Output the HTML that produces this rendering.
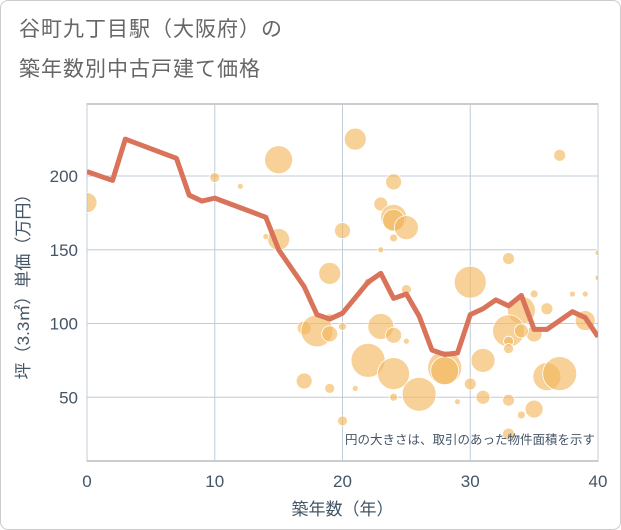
<!DOCTYPE html>
<html><head><meta charset="utf-8"><style>
body{margin:0;background:#fff;font-family:"Liberation Sans","Noto Sans CJK JP",sans-serif}
#wrap{position:relative;width:619px;height:528px;border:1px solid #ccc;border-radius:8px;overflow:hidden;background:#fff}
.t{position:absolute;left:18px;font-size:21px;color:#666;letter-spacing:1px}
</style></head><body>
<div id="wrap">
<div class="t" style="top:12px">谷町九丁目駅（大阪府）の</div>
<div class="t" style="top:52px">築年数別中古戸建て価格</div>
<svg id="svg" width="621" height="530" style="position:absolute;left:0;top:0"></svg>
</div>
<script>
const xTicks=[0,10,20,30,40];
const yTicks=[50,100,150,200];
const lineYears=[0,2,3,7,8,9,10,14,15,17,18,19,20,22,23,24,25,26,27,28,29,30,31,32,33,34,35,36,38,39,40];
const lineValues=[203,197,225,212,187,183,185,172,150,125,106,103,107,128,134,117,120,105,82,79,80,106,110,116,112,119,96,96,108,104,91];
const bubbleYears=[0,10,12,15,21,15,14,20,23,24,24,24,25,24,23,19,22,25,37,33,35,38,40,40,30,34,33,19,17,18,19,20,23,24,25,22,24,26,28,28,31,30,33,33,35,36,39,36,37,17,19,21,24,29,31,33,34,35,20,33,39,34];
const bubbleValues=[182,199,193,211,225,157,159,163,181,196,172,170,165,158,150,134,128,123,214,144,120,120,148,131,128,109,95,104,97,95,93,98,98,92,88,75,66,52,70,68,75,59,88,83,93,110,102,64,66,61,56,56,50,47,50,48,38,42,34,25,120,95];
const bubbleSizes=[10,5,3,14,11,11,3,8,7,8,13,11,12,4,3,11,4,5,6,6,4,3,3,3,16,14,16,4,7,16,8,4,13,8,3,17,16,17,17,14,12,6,5,5,8,6,10,14,17,8,5,3,4,3,7,6,4,9,5,6,3,7];
const X0=86,X1=597,Y0=103,Y1=460;
const sx=v=>X0+(v-0)/40*(X1-X0);
const sy=v=>470-v*1.475;
const svg=document.getElementById('svg');const NS='http://www.w3.org/2000/svg';
function mk(t,a,p){const e=document.createElementNS(NS,t);for(const k in a)e.setAttribute(k,a[k]);(p||svg).appendChild(e);return e;}
const bg=mk('rect',{x:X0,y:Y0,width:X1-X0,height:Y1-Y0,fill:'#fff',stroke:'#999','stroke-width':1});


xTicks.forEach(v=>{
 const g=mk('line',{x1:sx(v),x2:sx(v),y1:Y0,y2:Y1,stroke:'#c0ccd8','stroke-width':1});
 
 
 const t=mk('text',{x:sx(v),y:486,'text-anchor':'middle','font-size':17,fill:'#445566'});t.textContent=v;
 
 
});
yTicks.forEach(v=>{
 const g=mk('line',{x1:X0,x2:X1,y1:sy(v),y2:sy(v),stroke:'#c0ccd8','stroke-width':1});
 
 
 const t=mk('text',{x:77,y:sy(v)+6,'text-anchor':'end','font-size':17,fill:'#445566'});t.textContent=v;
 
 
});
const cp=mk('clipPath',{id:'cp'});mk('rect',{x:X0,y:Y0,width:X1-X0,height:Y1-Y0},cp);
const bg2=mk('g',{'clip-path':'url(#cp)'});
bubbleYears.forEach((yr,i)=>{
 const c=mk('circle',{cx:sx(yr),cy:sy(bubbleValues[i]),r:bubbleSizes[i],fill:'rgba(242,184,96,0.65)',stroke:'#fff','stroke-width':0.8},bg2);
 
 
});
const pl=mk('polyline',{points:lineYears.map((y,i)=>sx(y)+','+sy(lineValues[i])).join(' '),fill:'none',stroke:'#d9735a','stroke-width':5,'stroke-linejoin':'round'},bg2);


const note=mk('text',{x:594,y:443,'text-anchor':'end','font-size':12.5,fill:'#445566'});note.textContent='円の大きさは、取引のあった物件面積を示す';


const xt=mk('text',{x:(X0+X1)/2,y:514,'text-anchor':'middle','font-size':17,fill:'#445566'});xt.textContent='築年数（年）';


const yt=mk('text',{x:0,y:0,'text-anchor':'middle','font-size':17,fill:'#445566',transform:'translate(28,'+((Y0+Y1)/2)+') rotate(-90)'});yt.textContent='坪（3.3㎡）単価（万円）';


</script>
</body></html>
